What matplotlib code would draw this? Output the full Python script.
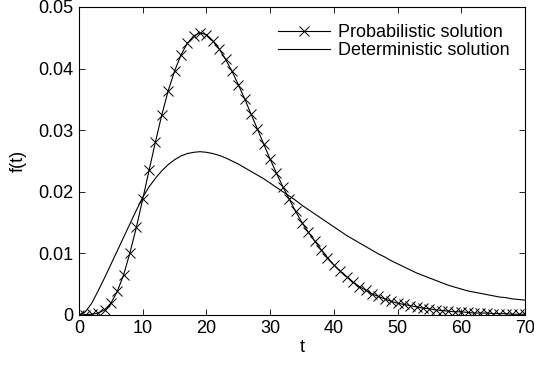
import numpy as np
import matplotlib.pyplot as plt

plt.rcParams['font.family'] = ['Liberation Sans', 'DejaVu Sans']

# time points (integer t from 0 to 70)
t = np.arange(0, 71)

prob = [0.0, 0.00002, 0.0001, 0.0003, 0.0008, 0.0019, 0.0038, 0.0065, 0.0101, 0.0142,
        0.0188, 0.0235, 0.0281, 0.0325, 0.0364, 0.0396, 0.0422, 0.0441, 0.0453, 0.0458,
        0.0455, 0.0445, 0.0432, 0.0415, 0.0396, 0.0374, 0.0351, 0.0326, 0.0302, 0.0277,
        0.0253, 0.0230, 0.0208, 0.0188, 0.0168, 0.0150, 0.0134, 0.0120, 0.0106, 0.0093,
        0.0081, 0.0071, 0.0062, 0.0053, 0.0046, 0.0040, 0.0034, 0.0030, 0.0026, 0.0022,
        0.0019, 0.0017, 0.0015, 0.0013, 0.0011, 0.0010, 0.0008, 0.0007, 0.0006, 0.0005,
        0.0005, 0.0004, 0.0003, 0.0003, 0.0003, 0.0002, 0.0002, 0.0002, 0.0001, 0.0001,
        0.0001]

determ = [0.0, 0.0005, 0.0019, 0.0039, 0.0060, 0.0082, 0.0104, 0.0126, 0.0148, 0.0170,
          0.0191, 0.0208, 0.0222, 0.0234, 0.0244, 0.0252, 0.0258, 0.0262, 0.0264, 0.0265,
          0.0264, 0.0262, 0.0259, 0.0255, 0.0250, 0.0245, 0.0239, 0.0233, 0.0227, 0.0221,
          0.0214, 0.0207, 0.0200, 0.0193, 0.0186, 0.0178, 0.0171, 0.0164, 0.0157, 0.0150,
          0.0143, 0.0136, 0.0129, 0.0123, 0.0117, 0.0111, 0.0105, 0.0099, 0.0094, 0.0088,
          0.0083, 0.0078, 0.0073, 0.0068, 0.0064, 0.0060, 0.0056, 0.0052, 0.0048, 0.0045,
          0.0042, 0.0039, 0.0037, 0.0035, 0.0033, 0.0031, 0.0029, 0.0028, 0.0026, 0.0025,
          0.0024]

xticks = [0, 10, 20, 30, 40, 50, 60, 70]
yticks = [0, 0.01, 0.02, 0.03, 0.04, 0.05]
ytick_labels = ['0', '0.01', '0.02', '0.03', '0.04', '0.05']

fig = plt.figure(figsize=(5.34, 3.67), dpi=100)
ax = fig.add_axes([0.148, 0.142, 0.835, 0.839])

ax.plot(t, prob, color='black', lw=0.8, marker='x', markersize=6.5, markeredgewidth=0.7,
        label='Probabilistic solution')
ax.plot(t, determ, color='black', lw=0.8, label='Deterministic solution')

ax.set_xlim(0, 70)
ax.set_ylim(0, 0.05)
ax.set_xticks(xticks)
ax.set_xticklabels([str(v) for v in xticks])
ax.set_yticks(yticks)
ax.set_yticklabels(ytick_labels)
ax.tick_params(direction='in', top=True, right=True, labelsize=13, length=4, width=0.6, pad=4)
for s in ax.spines.values():
    s.set_linewidth(0.8)

ax.set_xlabel('t', fontsize=13, labelpad=1)
ax.set_ylabel('f(t)', fontsize=13, labelpad=8)

ax.legend(loc='upper right', bbox_to_anchor=(0.989, 0.98), frameon=False, fontsize=13,
          handlelength=2.9, borderaxespad=0.2, labelspacing=0.05, handletextpad=0.4)

fig.savefig('out.png', dpi=100)
